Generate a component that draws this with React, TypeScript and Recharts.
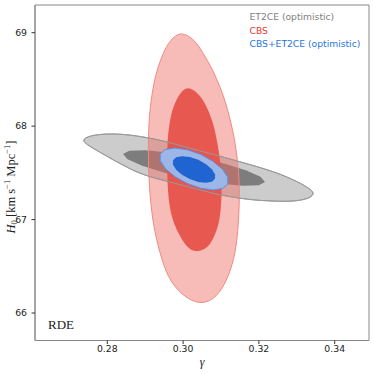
import { ScatterChart, Scatter, XAxis, YAxis, ReferenceArea } from "recharts";

const X_DOMAIN = [0.26092, 0.34905];
const Y_DOMAIN = [65.7057, 69.2966];
const X_TICKS = [0.28, 0.3, 0.32, 0.34];
const Y_TICKS = [66, 67, 68, 69];

// contour outlines, [gamma, H0]
const ET2CE_OUTER: [number, number][] = [
  [0.27332, 67.852], [0.27491, 67.889], [0.27755, 67.911], [0.28071, 67.918],
  [0.28467, 67.913], [0.29074, 67.878], [0.29654, 67.825], [0.30103, 67.771],
  [0.3071, 67.707], [0.31237, 67.648], [0.31765, 67.589], [0.32293, 67.525],
  [0.32689, 67.466], [0.33032, 67.402], [0.33296, 67.343], [0.3348, 67.284],
  [0.33348, 67.231], [0.33084, 67.204], [0.32741, 67.193], [0.32293, 67.199],
  [0.31844, 67.209], [0.31369, 67.236], [0.30974, 67.263], [0.30446, 67.317],
  [0.30103, 67.354], [0.29654, 67.402], [0.29127, 67.456], [0.28731, 67.515],
  [0.28467, 67.573], [0.28203, 67.627], [0.27939, 67.691], [0.27675, 67.75],
  [0.27464, 67.803],
];

const ET2CE_INNER: [number, number][] = [
  [0.32161, 67.401], [0.31997, 67.368], [0.31572, 67.362], [0.30952, 67.386],
  [0.3023, 67.434], [0.29517, 67.501], [0.28922, 67.575], [0.28534, 67.646],
  [0.28414, 67.702], [0.28578, 67.736], [0.29003, 67.742], [0.29623, 67.718],
  [0.30345, 67.67], [0.31058, 67.603], [0.31653, 67.529], [0.32041, 67.458],
];

const CBS_OUTER: [number, number][] = [
  [0.29945, 69.018], [0.30314, 68.922], [0.30525, 68.783], [0.30789, 68.601],
  [0.30974, 68.419], [0.31106, 68.28], [0.31317, 67.959], [0.31422, 67.691],
  [0.31501, 67.349], [0.31462, 66.942], [0.31383, 66.631], [0.31185, 66.375],
  [0.30974, 66.225], [0.30763, 66.139], [0.30499, 66.102], [0.30235, 66.128],
  [0.29918, 66.214], [0.29602, 66.375], [0.29391, 66.631], [0.29206, 66.942],
  [0.291, 67.349], [0.29074, 67.745], [0.291, 68.119], [0.29206, 68.419],
  [0.29311, 68.601], [0.2947, 68.783], [0.29654, 68.922],
];

const CBS_INNER: [number, number][] = [
  [0.30129, 68.44], [0.30446, 68.333], [0.30631, 68.205], [0.30789, 68.044],
  [0.30894, 67.852], [0.31, 67.584], [0.31026, 67.349], [0.31, 67.124],
  [0.30947, 66.942], [0.30763, 66.76], [0.30604, 66.69], [0.30393, 66.653],
  [0.30182, 66.674], [0.29997, 66.76], [0.2976, 66.942], [0.29641, 67.124],
  [0.29588, 67.349], [0.29575, 67.638], [0.29588, 67.852], [0.29641, 68.044],
  [0.29734, 68.205], [0.29892, 68.344],
];

const JOINT_OUTER: [number, number][] = [
  [0.31179, 67.38], [0.31046, 67.333], [0.30797, 67.317], [0.3047, 67.335],
  [0.30116, 67.385], [0.29788, 67.458], [0.29536, 67.544], [0.29398, 67.63],
  [0.29396, 67.702], [0.29529, 67.75], [0.29778, 67.766], [0.30105, 67.748],
  [0.30459, 67.698], [0.30788, 67.624], [0.3104, 67.538], [0.31177, 67.452],
];

const JOINT_INNER: [number, number][] = [
  [0.30842, 67.436], [0.30757, 67.404], [0.306, 67.393], [0.30396, 67.403],
  [0.30175, 67.433], [0.29971, 67.479], [0.29816, 67.534], [0.29732, 67.589],
  [0.29733, 67.636], [0.29818, 67.668], [0.29975, 67.679], [0.3018, 67.669],
  [0.304, 67.639], [0.30604, 67.592], [0.30759, 67.538], [0.30843, 67.483],
];

const LEGEND = [
  { name: "ET2CE (optimistic)", color: "#808080" },
  { name: "CBS", color: "#e8392d" },
  { name: "CBS+ET2CE (optimistic)", color: "#1f74e0" },
];

const toPoints = (pts: [number, number][]) => pts.map(([g, h]) => ({ g, h }));
const noDot = () => <g />;

const contour = (
  key: string,
  pts: [number, number][],
  fill: string,
  stroke: string,
  fillOpacity = 1,
  smooth = false
) => (
  <Scatter
    key={key}
    data={toPoints(pts)}
    line={{ fill, fillOpacity, stroke, strokeWidth: 1 }}
    lineType="joint"
    lineJointType={smooth ? "basisClosed" : "linearClosed"}
    shape={noDot}
    legendType="none"
    isAnimationActive={false}
  />
);

const tickStyle = { fontSize: 9.3, fill: "#222", fontFamily: "DejaVu Sans" };

export default function App() {
  return (
    <div style={{ position: "absolute", left: 0, top: 0, width: 374, height: 374, background: "#fff" }}>
      <ScatterChart width={374} height={374} margin={{ top: 5, right: 5, bottom: 0, left: 0 }}>
        <XAxis
          type="number"
          dataKey="g"
          domain={X_DOMAIN}
          allowDataOverflow
          ticks={X_TICKS}
          tickFormatter={(v) => v.toFixed(2)}
          height={33.5}
          tickSize={3.5}
          tickMargin={1}
          tick={tickStyle}
          tickLine={{ stroke: "#333" }}
          axisLine={{ stroke: "#888" }}
        />
        <YAxis
          type="number"
          dataKey="h"
          domain={Y_DOMAIN}
          allowDataOverflow
          ticks={Y_TICKS}
          width={35}
          tickSize={3.5}
          tickMargin={4.5}
          tick={tickStyle}
          tickLine={{ stroke: "#333" }}
          axisLine={{ stroke: "#888" }}
        />
        {contour("et2ce-2s", ET2CE_OUTER, "#cccccc", "#9a9a9a", 1, true)}
        {contour("et2ce-1s", ET2CE_INNER, "#7d7d7d", "none")}
        {contour("cbs-2s", CBS_OUTER, "#ee6b60", "#ef8a80", 0.45, true)}
        {contour("cbs-1s", CBS_INNER, "#e5524a", "none", 0.95, true)}
        {contour("et2ce-edge", ET2CE_OUTER, "none", "#9a9a9a", 1, true)}
        {contour("joint-2s", JOINT_OUTER, "#9db6e8", "#5d8fe6")}
        {contour("joint-1s", JOINT_INNER, "#1f64d0", "none")}
        <ReferenceArea
          x1={X_DOMAIN[0]}
          x2={X_DOMAIN[1]}
          y1={Y_DOMAIN[0]}
          y2={Y_DOMAIN[1]}
          fill="none"
          stroke="#888"
          ifOverflow="visible"
        />
      </ScatterChart>
      <svg
        width={374}
        height={374}
        style={{ position: "absolute", left: 0, top: 0, pointerEvents: "none" }}
      >
        {LEGEND.map((item, i) => (
          <text
            key={item.name}
            x={249.5}
            y={20 + i * 13.7}
            fontSize={9.2}
            fontFamily="DejaVu Sans"
            fill={item.color}
          >
            {item.name}
          </text>
        ))}
        <text x={48} y={329} fontSize={13} fontFamily="Liberation Serif" fill="#222">
          RDE
        </text>
        <text x={202} y={366} fontSize={12} fontFamily="Liberation Serif" fontStyle="italic" textAnchor="middle" fill="#222">
          γ
        </text>
        <text
          transform="translate(15,187) rotate(-90)"
          textAnchor="middle"
          fontSize={12.5}
          fontFamily="Liberation Serif"
          fill="#222"
        >
          <tspan fontStyle="italic">H</tspan>
          <tspan fontSize={8.5} dy={2}>0</tspan>
          <tspan dy={-2}>{"\u00a0[km\u00a0s"}</tspan>
          <tspan fontSize={8.5} dy={-5}>−1</tspan>
          <tspan dy={5}>{"\u00a0Mpc"}</tspan>
          <tspan fontSize={8.5} dy={-5}>−1</tspan>
          <tspan dy={5}>]</tspan>
        </text>
      </svg>
    </div>
  );
}
